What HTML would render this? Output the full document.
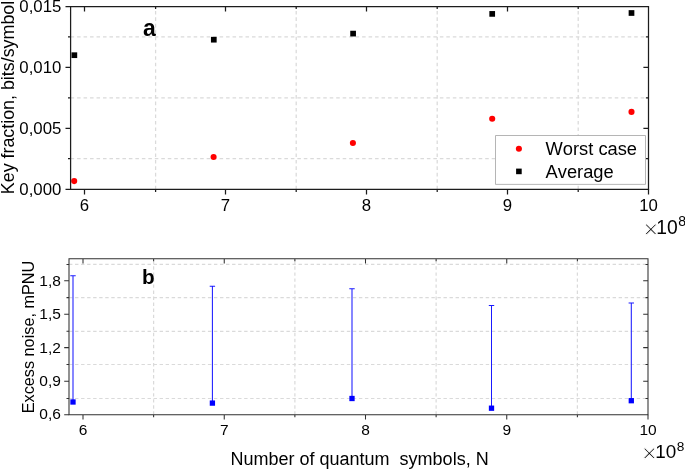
<!DOCTYPE html>
<html><head><meta charset="utf-8"><title>Key fraction and excess noise</title>
<style>html,body{margin:0;padding:0;background:#fff;}svg{display:block;}text{font-family:"Liberation Sans", sans-serif;fill:#000;font-kerning:none;}</style>
</head><body>
<svg width="685" height="469" viewBox="0 0 685 469">
<rect x="0" y="0" width="685" height="469" fill="#fff"/>
<path d="M70.6 36.9H648.5M70.6 97.8H648.5M70.6 158.7H648.5M155.6 189.35V6.5M296.2 189.35V6.5M437.2 189.35V6.5M578.2 189.35V6.5" fill="none" stroke="#dadada" stroke-width="1.25" stroke-dasharray="3.55 2.928"/>
<circle cx="74.2" cy="181.1" r="3.05" fill="#ff0000"/>
<circle cx="213.6" cy="157" r="3.05" fill="#ff0000"/>
<circle cx="352.9" cy="143" r="3.05" fill="#ff0000"/>
<circle cx="492.2" cy="118.8" r="3.05" fill="#ff0000"/>
<circle cx="631.5" cy="111.9" r="3.05" fill="#ff0000"/>
<rect x="71.5" y="52.35" width="5.7" height="5.7" fill="#000"/>
<rect x="210.95" y="36.85" width="5.7" height="5.7" fill="#000"/>
<rect x="350.25" y="30.75" width="5.7" height="5.7" fill="#000"/>
<rect x="489.35" y="11.05" width="5.7" height="5.7" fill="#000"/>
<rect x="628.65" y="10.15" width="5.7" height="5.7" fill="#000"/>
<path d="M70.6 6.5H648.5V189.35H70.6ZM84.5 189.35v5.1M84.5 6.5v5.1M225.5 189.35v5.1M225.5 6.5v5.1M366.5 189.35v5.1M366.5 6.5v5.1M507.5 189.35v5.1M507.5 6.5v5.1M155.6 189.35v2.6M155.6 6.5v2.6M296.2 189.35v2.6M296.2 6.5v2.6M437.2 189.35v2.6M437.2 6.5v2.6M578.2 189.35v2.6M578.2 6.5v2.6M70.6 67.4h-5.1M648.5 67.4h-5.1M70.6 128.3h-5.1M648.5 128.3h-5.1M70.6 36.9h-2.6M648.5 36.9h-2.6M70.6 97.8h-2.6M648.5 97.8h-2.6M70.6 158.7h-2.6M648.5 158.7h-2.6" fill="none" stroke="#1c1c1c" stroke-width="1.25" stroke-linecap="butt" stroke-linejoin="miter"/>
<path d="M70.6 6.5h-5.1M70.6 189.35h-5.1M648.5 189.35v5.1" fill="none" stroke="#1c1c1c" stroke-width="1.25"/>
<text x="61.3" y="11.7" font-size="16.8" text-anchor="end">0,015</text>
<text x="61.3" y="72.6" font-size="16.8" text-anchor="end">0,010</text>
<text x="61.3" y="133.5" font-size="16.8" text-anchor="end">0,005</text>
<text x="61.3" y="194.6" font-size="16.8" text-anchor="end">0,000</text>
<text x="84.5" y="211.4" font-size="16.8" text-anchor="middle">6</text>
<text x="225.5" y="211.4" font-size="16.8" text-anchor="middle">7</text>
<text x="366.5" y="211.4" font-size="16.8" text-anchor="middle">8</text>
<text x="507.5" y="211.4" font-size="16.8" text-anchor="middle">9</text>
<text x="648.5" y="211.4" font-size="16.8" text-anchor="middle">10</text>
<text x="643.15" y="237.6" font-size="26" stroke="#fff" stroke-width="1">×</text>
<text x="656.2" y="233.8" font-size="19.3">10</text>
<text x="678.2" y="226.3" font-size="14">8</text>
<text transform="translate(14 97.5) rotate(-90)" font-size="17.85" text-anchor="middle">Key fraction, bits/symbol</text>
<text x="143" y="36.4" font-size="23" font-weight="bold">a</text>
<rect x="495.6" y="135.6" width="150" height="48.7" fill="#fff" stroke="#a4a4a4" stroke-width="0.8"/>
<circle cx="518.9" cy="148.7" r="3.05" fill="#ff0000"/>
<rect x="516.1" y="168.6" width="5.6" height="5.6" fill="#000"/>
<text x="545.6" y="154.6" font-size="18.3">Worst case</text>
<text x="545.6" y="177.7" font-size="18.3">Average</text>
<path d="M69 398.5H648M69 364.5H648M69 331.3H648M69 297.6H648M69 264.4H648M153.62 414.7V258.65M294.88 414.7V258.65M436.12 414.7V258.65M577.38 414.7V258.65" fill="none" stroke="#dadada" stroke-width="1.2" stroke-dasharray="3.4 2.64"/>
<clipPath id="cb"><rect x="69" y="258.6" width="579" height="156"/></clipPath>
<g clip-path="url(#cb)">
<path d="M73 402V275.8M70.3 275.8h5.4M212.4 403.1V286.2M209.7 286.2h5.4M352 398.5V288.8M349.3 288.8h5.4M491.5 408.2V305.4M488.8 305.4h5.4M631.3 400.7V303M628.6 303h5.4" fill="none" stroke="#1a1aff" stroke-width="1.05"/>
<rect x="70.35" y="399.35" width="5.3" height="5.3" fill="#0000ff"/>
<rect x="209.75" y="400.45" width="5.3" height="5.3" fill="#0000ff"/>
<rect x="349.35" y="395.85" width="5.3" height="5.3" fill="#0000ff"/>
<rect x="488.85" y="405.55" width="5.3" height="5.3" fill="#0000ff"/>
<rect x="628.65" y="398.05" width="5.3" height="5.3" fill="#0000ff"/>
</g>
<path d="M69 258.65H648V414.7H69ZM83 414.7v4.8M83 258.65v4.8M224.25 414.7v4.8M224.25 258.65v4.8M365.5 414.7v4.8M365.5 258.65v4.8M506.75 414.7v4.8M506.75 258.65v4.8M153.62 414.7v2.5M153.62 258.65v2.5M294.88 414.7v2.5M294.88 258.65v2.5M436.12 414.7v2.5M436.12 258.65v2.5M577.38 414.7v2.5M577.38 258.65v2.5M69 381.2h-4.8M648 381.2h-4.8M69 347.6h-4.8M648 347.6h-4.8M69 314.2h-4.8M648 314.2h-4.8M69 280.8h-4.8M648 280.8h-4.8M69 398.5h-2.5M648 398.5h-2.5M69 364.5h-2.5M648 364.5h-2.5M69 331.3h-2.5M648 331.3h-2.5M69 297.6h-2.5M648 297.6h-2.5M69 264.4h-2.5M648 264.4h-2.5" fill="none" stroke="#303030" stroke-width="1.05" stroke-linecap="butt" stroke-linejoin="miter"/>
<path d="M69 414.7h-4.8M648 414.7v4.8" fill="none" stroke="#303030" stroke-width="1.05"/>
<text x="60.9" y="419.4" font-size="15.5" text-anchor="end">0,6</text>
<text x="60.9" y="385.95" font-size="15.5" text-anchor="end">0,9</text>
<text x="60.9" y="352.5" font-size="15.5" text-anchor="end">1,2</text>
<text x="60.9" y="319.05" font-size="15.5" text-anchor="end">1,5</text>
<text x="60.9" y="285.6" font-size="15.5" text-anchor="end">1,8</text>
<text x="83" y="434.5" font-size="15.5" text-anchor="middle">6</text>
<text x="224.25" y="434.5" font-size="15.5" text-anchor="middle">7</text>
<text x="365.5" y="434.5" font-size="15.5" text-anchor="middle">8</text>
<text x="506.75" y="434.5" font-size="15.5" text-anchor="middle">9</text>
<text x="648" y="434.5" font-size="15.5" text-anchor="middle">10</text>
<text x="641.8" y="461.7" font-size="26" stroke="#fff" stroke-width="1">×</text>
<text x="655.2" y="457.9" font-size="18.9">10</text>
<text x="676.7" y="450.7" font-size="13.7">8</text>
<text transform="translate(34 337) rotate(-90)" font-size="16.25" text-anchor="middle">Excess noise, mPNU</text>
<text x="142.1" y="284.4" font-size="20.7" font-weight="bold">b</text>
<text x="359.6" y="465" font-size="18" text-anchor="middle" xml:space="preserve" style="white-space:pre">Number of quantum  symbols, N</text>
</svg></body></html>
